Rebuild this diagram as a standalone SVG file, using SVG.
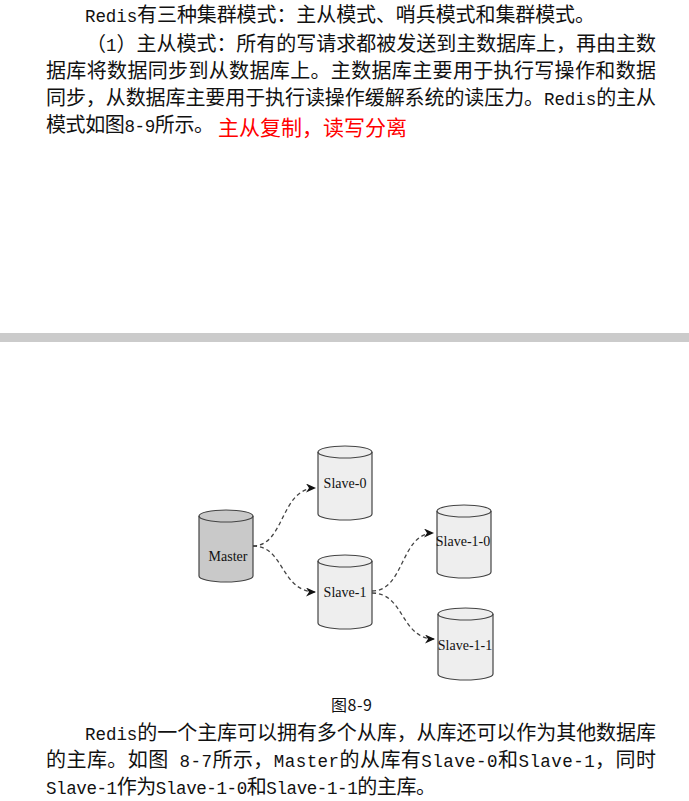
<svg xmlns="http://www.w3.org/2000/svg" width="689" height="801" viewBox="0 0 689 801">
<style>
.p{font-family:"Noto Sans CJK SC","Liberation Sans",sans-serif;font-size:20px;fill:#111}
.m{font-family:"Liberation Mono","Noto Sans CJK SC",monospace;font-size:17.5px}
.red{font-family:"Noto Sans CJK SC","Liberation Sans",sans-serif;font-size:21px;fill:#ff0000}
.cap{font-family:"Noto Sans CJK SC","Liberation Sans",sans-serif;font-size:16px;fill:#111}
.cyl{stroke:#444;stroke-width:1.2}
.slave{fill:#eeeeee}
.master{fill:#c9c9c9}
.lbl{font-family:"Liberation Serif","Times New Roman",serif;font-size:14px;fill:#111;text-anchor:middle}
.edge{fill:none;stroke:#444;stroke-width:1.3;stroke-dasharray:4 3}
</style>
<defs>
<marker id="arr" markerUnits="userSpaceOnUse" markerWidth="12" markerHeight="10" refX="10" refY="4.5" orient="auto">
<path d="M0,0 L10,4.5 L0,9 L3,4.5 Z" fill="#111"/>
</marker>
</defs>
<rect width="689" height="801" fill="#ffffff"/>
<g id="top-text">
<text class="p" x="85" y="22" textLength="510" lengthAdjust="spacing"><tspan class="m">Redis</tspan>有三种集群模式：主从模式、哨兵模式和集群模式。</text>
<text class="p" x="86" y="51" textLength="570" lengthAdjust="spacing">（<tspan class="m">1</tspan>）主从模式：所有的写请求都被发送到主数据库上，再由主数</text>
<text class="p" x="46" y="78" textLength="610" lengthAdjust="spacing">据库将数据同步到从数据库上。主数据库主要用于执行写操作和数据</text>
<text class="p" x="46" y="105" textLength="610" lengthAdjust="spacing">同步，从数据库主要用于执行读操作缓解系统的读压力。<tspan class="m">Redis</tspan>的主从</text>
<text class="p" x="46" y="132" textLength="168" lengthAdjust="spacing">模式如图<tspan class="m">8-9</tspan>所示。</text>
<text class="red" x="218" y="135" textLength="189" lengthAdjust="spacing">主从复制，读写分离</text>
</g>
<rect id="divider" x="0" y="333" width="689" height="9" fill="#cbcbcb"/>
<g id="connectors">
<path class="edge" d="M253,546 C285,546 280,488 316,488" marker-end="url(#arr)"/>
<path class="edge" d="M253,546 C285,546 280,592 316,592" marker-end="url(#arr)"/>
<path class="edge" d="M372,591 C405,591 400,533 434,533" marker-end="url(#arr)"/>
<path class="edge" d="M372,593 C405,593 400,639 435,639" marker-end="url(#arr)"/>
</g>
<g id="master">
<path class="cyl master" d="M199,516 A27,6 0 0 1 253,516 V576 A27,6 0 0 1 199,576 Z"/>
<path class="cyl" fill="none" d="M199,516 A27,6 0 0 0 253,516"/>
<text class="lbl" x="228" y="561">Master</text>
</g>
<g id="slave-0">
<path class="cyl slave" d="M318,452 A27,6 0 0 1 372,452 V514 A27,6 0 0 1 318,514 Z"/>
<path class="cyl" fill="none" d="M318,452 A27,6 0 0 0 372,452"/>
<text class="lbl" x="345" y="488">Slave-0</text>
</g>
<g id="slave-1">
<path class="cyl slave" d="M318,561 A27,6 0 0 1 372,561 V623 A27,6 0 0 1 318,623 Z"/>
<path class="cyl" fill="none" d="M318,561 A27,6 0 0 0 372,561"/>
<text class="lbl" x="345" y="597">Slave-1</text>
</g>
<g id="slave-1-0">
<path class="cyl slave" d="M437,511 A27,6 0 0 1 491,511 V572 A27,6 0 0 1 437,572 Z"/>
<path class="cyl" fill="none" d="M437,511 A27,6 0 0 0 491,511"/>
<text class="lbl" x="463" y="546">Slave-1-0</text>
</g>
<g id="slave-1-1">
<path class="cyl slave" d="M438,614 A27.5,6 0 0 1 493,614 V674 A27.5,6 0 0 1 438,674 Z"/>
<path class="cyl" fill="none" d="M438,614 A27.5,6 0 0 0 493,614"/>
<text class="lbl" x="465" y="650">Slave-1-1</text>
</g>
<g id="bottom-text">
<text class="cap" x="331" y="711" textLength="41" lengthAdjust="spacing">图8-9</text>
<text class="p" x="85" y="740" textLength="571" lengthAdjust="spacing"><tspan class="m">Redis</tspan>的一个主库可以拥有多个从库，从库还可以作为其他数据库</text>
<text class="p" x="46" y="767" textLength="610" lengthAdjust="spacing">的主库。如图<tspan class="m"> 8-7</tspan>所示，<tspan class="m">Master</tspan>的从库有<tspan class="m">Slave-0</tspan>和<tspan class="m">Slave-1</tspan>，同时</text>
<text class="p" x="46" y="794" textLength="390" lengthAdjust="spacing"><tspan class="m">Slave-1</tspan>作为<tspan class="m">Slave-1-0</tspan>和<tspan class="m">Slave-1-1</tspan>的主库。</text>
</g>
</svg>
